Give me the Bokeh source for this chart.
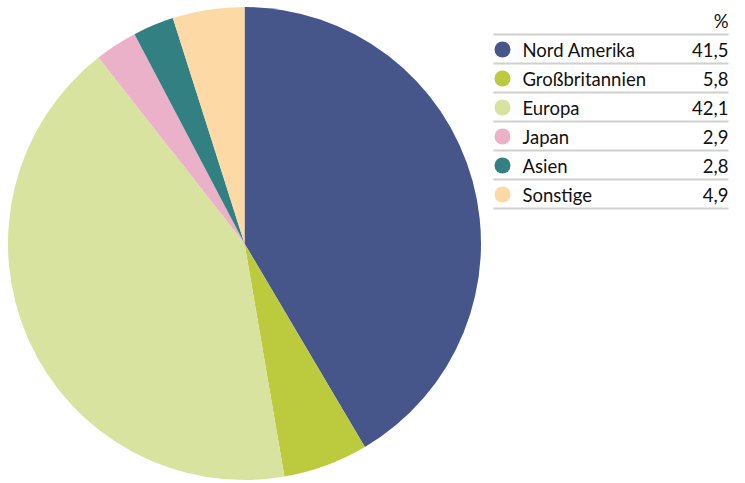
import math
from bokeh.plotting import figure
from bokeh.models import Range1d, ColumnDataSource
from bokeh.core.properties import value
from bokeh.embed import file_html
from bokeh.resources import INLINE

categories = ["Nord Amerika", "Großbritannien", "Europa", "Japan", "Asien", "Sonstige"]
shares = [41.5, 5.8, 42.1, 2.9, 2.8, 4.9]
share_labels = ["41,5", "5,8", "42,1", "2,9", "2,8", "4,9"]
unit_label = "%"

palette = ["#46558a", "#bccb3d", "#d9e3a0", "#ebb1c9", "#338083", "#fdd9a5"]

W, H = 737, 483
p = figure(width=W, height=H, output_backend="svg", toolbar_location=None,
           x_range=Range1d(0, W), y_range=Range1d(0, H), min_border=0)
p.axis.visible = False
p.grid.visible = False
p.outline_line_color = None

# pie
total = sum(shares)
starts, ends = [], []
cum = 0.0
for s in shares:
    starts.append(math.pi / 2 - cum / total * 2 * math.pi)
    cum += s
    ends.append(math.pi / 2 - cum / total * 2 * math.pi)
cx, cy, r = 244, H - 243, 236.5
src = ColumnDataSource(dict(start=starts, end=ends, color=palette, cat=categories))
p.wedge(x=cx, y=cy, radius=r, start_angle="start", end_angle="end", direction="clock",
        fill_color="color", line_color=None, source=src)

# legend table
def fy(page_y):
    return H - page_y

row_y = [fy(49 + 29 * i) for i in range(len(categories))]
sep_y = [fy(34 + 29 * i) for i in range(len(categories) + 1)]
x0, x1 = 493, 728
p.segment(x0=[x0] * len(sep_y), y0=sep_y, x1=[x1] * len(sep_y), y1=sep_y,
          line_color="#d0d0d0", line_width=2)
lsrc = ColumnDataSource(dict(y=row_y, color=palette, cat=categories, lab=share_labels,
                             xc=[502] * len(row_y), xt=[522] * len(row_y), xv=[x1] * len(row_y)))
p.scatter(x="xc", y="y", size=16, fill_color="color", line_color=None, source=lsrc)
p.text(x="xt", y="y", text="cat", source=lsrc, text_font=value("Lato"), text_font_size="18.5px",
       text_baseline="middle", text_align="left", text_color="#111111")
p.text(x="xv", y="y", text="lab", source=lsrc, text_font=value("Lato"), text_font_size="18.5px",
       text_baseline="middle", text_align="right", text_color="#111111")
p.text(x=[x1], y=[fy(20)], text=[unit_label], text_font=value("Lato"), text_font_size="18.5px",
       text_baseline="middle", text_align="right", text_color="#111111")

open("out.html", "w").write(file_html(p, INLINE))
